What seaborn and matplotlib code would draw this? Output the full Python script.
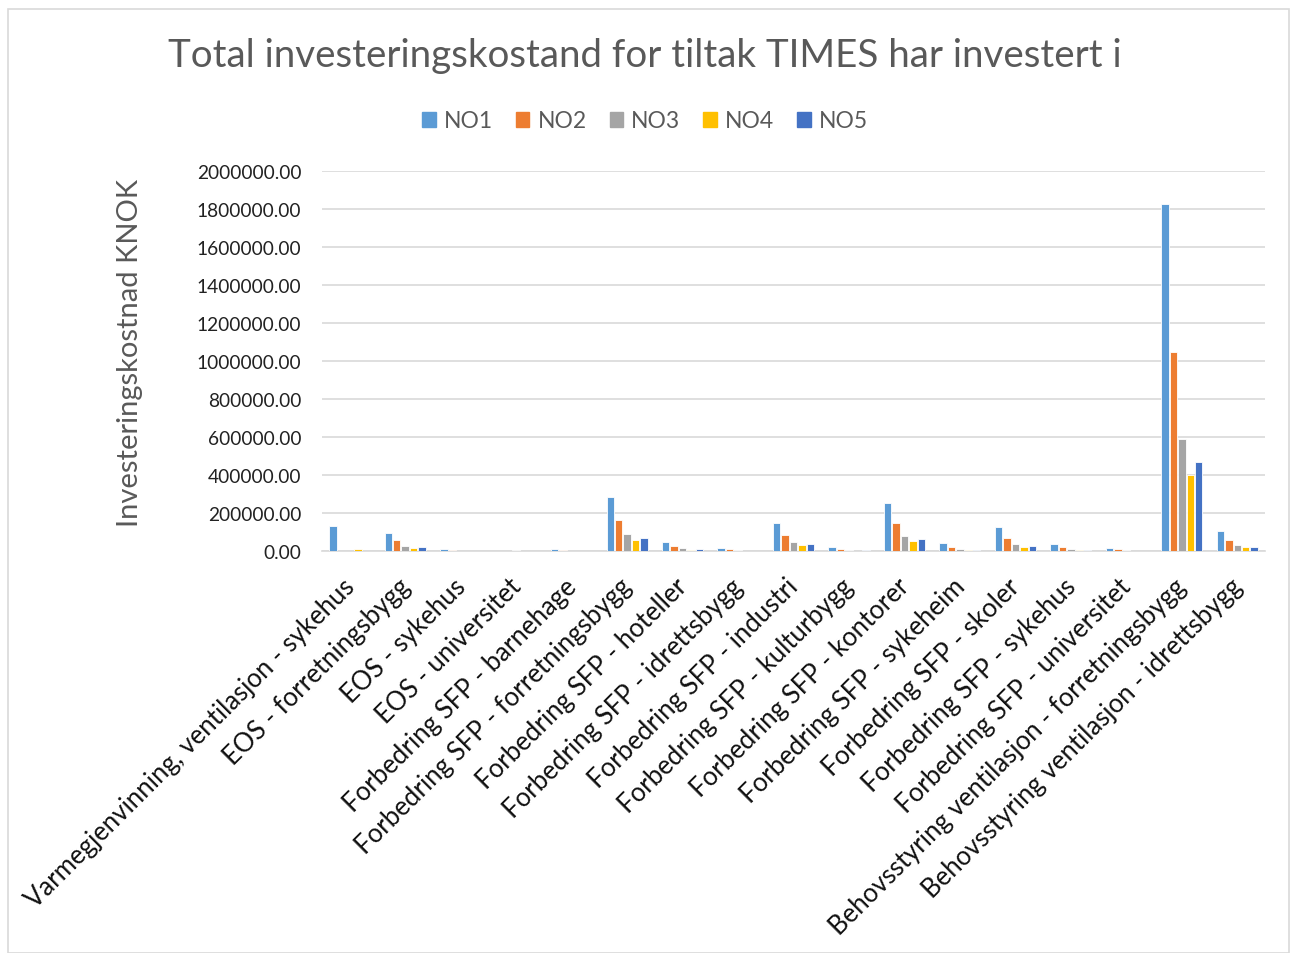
import matplotlib
matplotlib.use("Agg")
import matplotlib.pyplot as plt
import matplotlib.transforms as mtransforms
import seaborn as sns
import pandas as pd
from matplotlib.patches import Rectangle

# Tiltak (measures) on the category axis
categories = [
    "Varmegjenvinning, ventilasjon - sykehus",
    "EOS - forretningsbygg",
    "EOS - sykehus",
    "EOS - universitet",
    "Forbedring SFP - barnehage",
    "Forbedring SFP - forretningsbygg",
    "Forbedring SFP - hoteller",
    "Forbedring SFP - idrettsbygg",
    "Forbedring SFP - industri",
    "Forbedring SFP - kulturbygg",
    "Forbedring SFP - kontorer",
    "Forbedring SFP - sykeheim",
    "Forbedring SFP - skoler",
    "Forbedring SFP - sykehus",
    "Forbedring SFP - universitet",
    "Behovsstyring ventilasjon - forretningsbygg",
    "Behovsstyring ventilasjon - idrettsbygg",
]

regions = ["NO1", "NO2", "NO3", "NO4", "NO5"]

# Investment cost per price area, KNOK
no1 = [134000, 96000, 11000, 0, 8000, 285000, 50000, 18000, 148000, 21000,
       253000, 41000, 125000, 37000, 18000, 1826000, 105000]
no2 = [0, 56000, 5000, 0, 4000, 164000, 27000, 9000, 84000, 12000,
       146000, 21000, 71000, 21000, 9000, 1046000, 58000]
no3 = [0, 27000, 0, 4000, 0, 89000, 14000, 5000, 46000, 5000,
       78000, 11000, 37000, 9000, 5000, 589000, 32000]
no4 = [13000, 15000, 0, 0, 0, 59000, 7000, 0, 30000, 0,
       52000, 5000, 23000, 5000, 0, 402000, 19000]
no5 = [0, 21000, 0, 0, 0, 71000, 9000, 0, 36000, 4000,
       62000, 7000, 28000, 5000, 0, 470000, 23000]

colors = ["#5B9BD5", "#ED7D31", "#A5A5A5", "#FFC000", "#4472C4"]

series = [no1, no2, no3, no4, no5]
df = pd.DataFrame(
    [(c, r, v) for r, vals in zip(regions, series) for c, v in zip(categories, vals)],
    columns=["Tiltak", "Region", "Kostnad"],
)

sns.set_theme(style="white")
plt.rcParams["font.family"] = ["Lato", "DejaVu Sans"]
text_col = "#595959"

fig = plt.figure(figsize=(12.9, 9.54), dpi=100)
fig.patches.append(Rectangle((8 / 1290, 0), 1 - 8 / 1290 - 1 / 1290, 1 - 10 / 954,
                             transform=fig.transFigure, fill=False,
                             edgecolor="#D9D9D9", linewidth=1.2))
ax = fig.add_axes([322 / 1290, 1 - 552 / 954, (1265 - 322) / 1290, (552 - 172) / 954])

sns.barplot(data=df, x="Tiltak", y="Kostnad", hue="Region", order=categories,
            hue_order=regions, palette=colors, width=0.76, gap=0.12,
            edgecolor="white", linewidth=0.6, saturation=1, ax=ax, zorder=3)

ax.set_ylim(0, 2000000)
ax.set_xlim(-0.5, len(categories) - 0.5)
ax.set_yticks(range(0, 2000001, 200000))
ax.set_yticklabels([f"{v:.2f}" for v in range(0, 2000001, 200000)],
                   fontsize=13.8, color="#222222")
ax.yaxis.grid(True, color="#D9D9D9", linewidth=1.2, zorder=0)
ax.set_axisbelow(True)
for s in ["top", "right", "left"]:
    ax.spines[s].set_visible(False)
ax.spines["bottom"].set_color("#D9D9D9")
ax.spines["bottom"].set_linewidth(1.2)
ax.tick_params(axis="both", length=0)
ax.tick_params(axis="y", pad=15)

ax.set_xticks(range(len(categories)))
ax.set_xticklabels(categories, rotation=45, ha="right", va="top",
                   rotation_mode="anchor", fontsize=18.5, color="#111111")
ax.tick_params(axis="x", pad=16)
shift = mtransforms.ScaledTranslation(-8 / 100, 0, fig.dpi_scale_trans)
for lbl in ax.get_xticklabels():
    lbl.set_transform(lbl.get_transform() + shift)
ax.set_xlabel("")
ax.set_ylabel("Investeringskostnad KNOK", fontsize=21, color=text_col)
ax.yaxis.set_label_coords(-0.19, 0.523)

ax.legend_.remove()
handles = [plt.Rectangle((0, 0), 1, 1, color=c) for c in colors]
fig.legend(handles, regions, loc="center", bbox_to_anchor=(0.5, 1 - 122 / 954),
           ncol=5, frameon=False, fontsize=16.5, labelcolor=text_col,
           handlelength=0.6, handleheight=0.6, handletextpad=0.35, columnspacing=1.0)

fig.text(0.5, 1 - 56 / 954, "Total investeringskostand for tiltak TIMES har investert i",
         ha="center", va="center", fontsize=27.7, color=text_col)

fig.savefig("out.png", dpi=100)
